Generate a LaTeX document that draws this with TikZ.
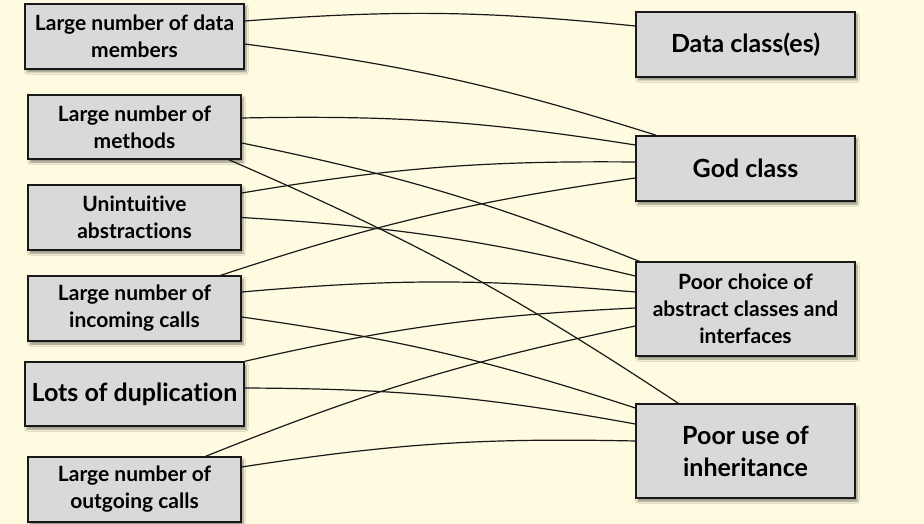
\documentclass[tikz,border=0pt]{standalone}
\usepackage{fontspec}
\setmainfont{Lato}[Ligatures=NoCommon]
\usepackage{tikz}
\usetikzlibrary{shadows.blur}
\definecolor{paper}{RGB}{254,251,224}
\definecolor{boxgray}{RGB}{217,217,217}
\tikzstyle{box}=[draw=black!90,line width=1.4pt,fill=boxgray,inner sep=0pt,align=center,
  blur shadow={shadow xshift=2pt,shadow yshift=-3pt,shadow blur steps=6,shadow opacity=45}]
\tikzstyle{smallbox}=[box,font=\bfseries\fontsize{21}{27}\selectfont]
\tikzstyle{bigbox}=[box,font=\bfseries\fontsize{25}{32}\selectfont]
\tikzstyle{link}=[line width=1.2pt,black!90,bend left=5]

\begin{document}
\begin{tikzpicture}[x=1pt,y=-1pt]
    \fill[paper] (0,0) rectangle (924,524);
    \useasboundingbox (0,0) rectangle (924,524);
%   symptoms
    \node[smallbox,minimum width=219pt,minimum height=65pt] (datamem) at (134.5,36.5) {Large number of data\\members};
    \node[smallbox,minimum width=213pt,minimum height=64pt] (methods) at (134.5,127) {Large number of\\methods};
    \node[smallbox,minimum width=213pt,minimum height=65pt] (unintuit) at (134.5,217.5) {Unintuitive\\abstractions};
    \node[smallbox,minimum width=213pt,minimum height=65pt] (incoming) at (134.5,308.5) {Large number of\\incoming calls};
    \node[bigbox,minimum width=219pt,minimum height=64pt] (duplic) at (134.5,394) {Lots of duplication};
    \node[smallbox,minimum width=213pt,minimum height=65pt] (outgoing) at (134.5,489.5) {Large number of\\outgoing calls};
%   causes
    \node[bigbox,minimum width=219pt,minimum height=65pt] (dataclass) at (745.5,44.5) {Data class(es)};
    \node[bigbox,minimum width=219pt,minimum height=65pt] (godclass) at (745.5,168.5) {God class};
    \node[smallbox,minimum width=219pt,minimum height=94pt] (abstract) at (745.5,309) {Poor choice of\\abstract classes and\\interfaces};
    \node[bigbox,minimum width=219pt,minimum height=94pt] (inherit) at (745.5,451) {Poor use of\\inheritance};
%   links
    \draw[link] ([yshift=15.5pt]datamem.east) to ([yshift=18.5pt]dataclass.west);
    \draw[link] ([yshift=-7.5pt]datamem.east) to ([xshift=21pt]godclass.north west);
    \draw[link] ([yshift=9pt]methods.east) to ([yshift=23.5pt]godclass.west);
    \draw[link] ([yshift=-16pt]methods.east) to ([xshift=4pt]abstract.north west);
    \draw[link] ([xshift=-13pt]methods.south east) to ([xshift=43pt]inherit.north west);
    \draw[link] ([yshift=24.5pt]unintuit.east) to ([yshift=6.5pt]godclass.west);
    \draw[link] (unintuit.east) to ([yshift=33pt]abstract.west);
    \draw[link] ([xshift=-21pt]incoming.north east) to ([yshift=-9.5pt]godclass.west);
    \draw[link] ([yshift=16.5pt]incoming.east) to ([yshift=17pt]abstract.west);
    \draw[link] ([yshift=-8.5pt]incoming.east) to ([yshift=43pt]inherit.west);
    \draw[link] (duplic.north east) to ([yshift=1pt]abstract.west);
    \draw[link] ([yshift=6pt]duplic.east) to ([yshift=27pt]inherit.west);
    \draw[link] ([xshift=-36pt]outgoing.north east) to ([yshift=-17pt]abstract.west);
    \draw[link] ([yshift=22.5pt]outgoing.east) to ([yshift=10pt]inherit.west);
\end{tikzpicture}
\end{document}
